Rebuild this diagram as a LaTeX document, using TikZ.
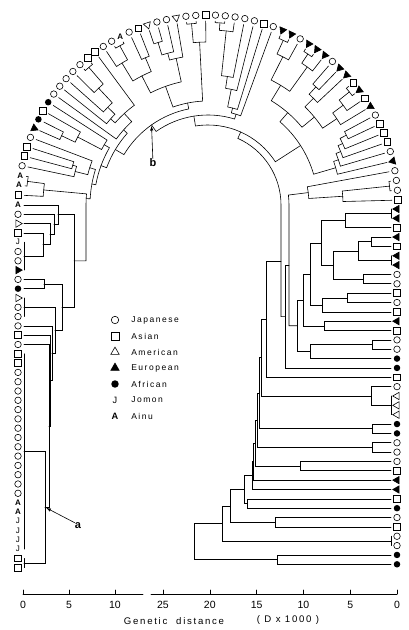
\documentclass[tikz,border=0pt]{standalone}
\usepackage{fontspec}
\setmainfont{Liberation Sans}
\newfontfamily\spaced[LetterSpace=18]{Liberation Sans}
\usetikzlibrary{calc,shapes.geometric}

% join two clades of a column at x=#3, parent named #4
\newcommand{\cjoin}[4]{%
  \draw let \p1=(#1), \p2=(#2) in
    (#1) -- (#3pt,\y1) -- (#3pt,\y2) -- (#2) (#3pt,{(\y1+\y2)/2}) coordinate (#4);}
% join two clades of the arc at radius #3, parent named #4
\newcommand{\pjoin}[4]{%
  \draw let \p1=($(#1)-(c)$), \p2=($(#2)-(c)$),
    \n1={atan2(\y1,\x1)}, \n2={atan2(\y2,\x2)} in
    (#1) -- ($(c)+(\n1:#3)$) arc[start angle=\n1, end angle=\n2, radius=#3] -- (#2)
    ($(c)+({(\n1+\n2)/2}:#3)$) coordinate (#4);}
% arc clade #1 joined with column clade #2 at radius #3, arc runs to angle #4
\newcommand{\mjoin}[5]{%
  \draw let \p1=($(#1)-(c)$), \p2=(#2), \p3=($(c)+(#4:#3)$),
    \n1={atan2(\y1,\x1)} in
    (#1) -- ($(c)+(\n1:#3)$) arc[start angle=\n1, end angle=#4, radius=#3]
    -- (\x3,\y2) -- (#2) (\x3,{(\y2+\y3)/2}) coordinate (#5);}
% leaves at zero distance
\newcommand{\zbar}[3]{%
  \draw (#1) -- (#2) ($(#1)!0.5!(#2)$) coordinate (#3);}

\def\trirot{0}

\begin{document}
\begin{tikzpicture}[x=1pt,y=1pt,line width=0.6pt,line cap=round,
  jpn/.style={circle,draw,inner sep=0pt,minimum size=6.5pt},
  asn/.style={rectangle,draw,inner sep=0pt,minimum size=6.8pt},
  amr/.style={regular polygon,regular polygon sides=3,draw,inner sep=0pt,
    minimum size=8.5pt,shape border rotate=\trirot},
  eur/.style={amr,fill=black},
  afr/.style={circle,fill=black,inner sep=0pt,minimum size=6.5pt},
  jom/.style={inner sep=0pt,font=\fontsize{8}{8}\selectfont},
  ain/.style={inner sep=0pt,font=\bfseries\fontsize{8}{8}\selectfont},
  legtext/.style={anchor=west,inner sep=0pt,font=\spaced\fontsize{8.5}{10}\selectfont},
  tick/.style={inner sep=0pt,font=\fontsize{10.5}{12}\selectfont},
  axtitle/.style={inner sep=0pt,font=\spaced\fontsize{9.6}{11}\selectfont},
  cladelab/.style={inner sep=0pt,font=\bfseries\fontsize{11}{12}\selectfont}]
		%%%%% START %%%%%
		\useasboundingbox (0,0) rectangle (408,630);
		\coordinate (c) at (208,425);
		
		% leaves round the top
		\foreach \s/\t [count=\k] in {asn/,ain/A,ain/A,jpn/,asn/,asn/,jpn/,eur/,afr/,asn/,
		    afr/,jpn/,jpn/,jpn/,jpn/,jpn/,asn/,asn/,jpn/,jpn/,
		    ain/A,jpn/,asn/,amr/,jpn/,jpn/,amr/,jpn/,jpn/,asn/,
		    jpn/,jpn/,jpn/,jpn/,jpn/,asn/,jpn/,eur/,eur/,jpn/,
		    eur/,eur/,eur/,jpn/,eur/,eur/,asn/,eur/,asn/,eur/,
		    jpn/,asn/,asn/,asn/,jpn/,eur/,jpn/,jpn/,jpn/,asn/}{
		  \pgfmathsetmacro\ang{177-2.975*(\k-1)}
		  \pgfmathsetmacro\trirot{\ang+90}
		  \node[\s] (p\k) at ($(c)+(\ang:190)$) {\t};
		  \coordinate (tp\k) at ($(c)+(\ang:184)$);
		}
		
		% left column
		\def\trirot{270}
		\foreach \s/\t [count=\k] in {ain/A,jpn/,amr/,asn/,jom/J,jpn/,jpn/,eur/,jpn/,afr/,
		    amr/,jpn/,jpn/,jpn/,asn/,jpn/,asn/,asn/,jpn/,jpn/,
		    jpn/,jpn/,jpn/,jpn/,jpn/,jpn/,jpn/,jpn/,jpn/,jpn/,
		    jpn/,jpn/,ain/A,ain/A,jom/J,jom/J,jom/J,jom/J,asn/,asn/}{
		  \node[\s] (l\k) at (18,{425-9.3*(\k-1)}) {\t};
		  \coordinate (tl\k) at (24,{425-9.3*(\k-1)});
		}
		
		% right column
		\def\trirot{90}
		\foreach \s/\t [count=\k] in {eur/,eur/,asn/,eur/,asn/,eur/,eur/,jpn/,jpn/,asn/,
		    jpn/,asn/,eur/,asn/,jpn/,jpn/,afr/,afr/,asn/,jpn/,
		    amr/,amr/,amr/,afr/,afr/,jpn/,jpn/,jpn/,asn/,eur/,
		    eur/,asn/,afr/,jpn/,asn/,jpn/,jpn/,afr/,afr/}{
		  \node[\s] (r\k) at (397,{421-9.35*(\k-1)}) {\t};
		  \coordinate (tr\k) at (391,{421-9.35*(\k-1)});
		}
		
		% clades on the arc
		\pjoin{tp2}{tp3}{182}{q2x3}
		\pjoin{tp1}{q2x3}{165}{q1x3}
		\pjoin{tp5}{tp6}{141}{q5x6}
		\pjoin{tp4}{q5x6}{137}{q4x6}
		\pjoin{q4x6}{tp7}{124}{q4x7}
		\pjoin{tp8}{tp9}{162}{q8x9}
		\pjoin{q8x9}{tp10}{147}{q8x10}
		\pjoin{q8x10}{tp11}{120}{q8x11}
		\pjoin{tp16}{tp17}{182}{q16x17}
		\pjoin{tp15}{q16x17}{160}{q15x17}
		\pjoin{tp14}{q15x17}{140}{q14x17}
		\pjoin{tp13}{q14x17}{130}{q13x17}
		\pjoin{q13x17}{tp18}{124}{q13x18}
		\pjoin{tp12}{q13x18}{113}{q12x18}
		\pjoin{tp20}{tp21}{182}{q20x21}
		\pjoin{tp19}{q20x21}{166}{q19x21}
		\pjoin{tp22}{tp23}{160}{q22x23}
		\pjoin{q19x21}{q22x23}{145}{q19x23}
		\pjoin{tp24}{tp25}{170}{q24x25}
		\pjoin{q24x25}{tp26}{157}{q24x26}
		\pjoin{q24x26}{tp27}{150}{q24x27}
		\pjoin{q19x23}{q24x27}{126}{q19x27}
		\pjoin{tp28}{tp29}{182}{q28x29}
		\pjoin{q28x29}{tp30}{163}{q28x30}
		\pjoin{q19x27}{q28x30}{104}{q19x30}
		\pjoin{tp31}{tp32}{182.5}{q31x32}
		\pjoin{q31x32}{tp33}{175}{q31x33}
		\pjoin{q31x33}{tp34}{130}{q31x34}
		\pjoin{q31x34}{tp35}{118}{q31x35}
		\pjoin{q31x35}{tp36}{100}{q31x36}
		\pjoin{q31x36}{tp37}{95}{q31x37}
		\pjoin{tp38}{tp39}{181}{q38x39}
		\pjoin{q38x39}{tp40}{166}{q38x40}
		\pjoin{tp41}{tp42}{181}{q41x42}
		\pjoin{q41x42}{tp43}{170}{q41x43}
		\pjoin{q38x40}{q41x43}{140}{q38x43}
		\pjoin{tp44}{tp45}{160}{q44x45}
		\pjoin{q44x45}{tp46}{150}{q44x46}
		\pjoin{tp47}{tp48}{181}{q47x48}
		\pjoin{q47x48}{tp49}{168}{q47x49}
		\pjoin{q47x49}{tp50}{155}{q47x50}
		\pjoin{q44x46}{q47x50}{138}{q44x50}
		\pjoin{q38x43}{q44x50}{122}{q38x50}
		\pjoin{tp51}{tp52}{155}{q51x52}
		\pjoin{q51x52}{tp53}{148}{q51x53}
		\pjoin{q51x53}{tp54}{143}{q51x54}
		\pjoin{q51x54}{tp55}{138}{q51x55}
		\pjoin{q51x55}{tp56}{133}{q51x56}
		\pjoin{q38x50}{q51x56}{110}{q38x56}
		\pjoin{tp58}{tp59}{182.5}{q58x59}
		\pjoin{q58x59}{tp60}{135}{q58x60}
		\pjoin{tp57}{q58x60}{101}{q57x60}
		
		% left column clades
		\zbar{tl5}{tl8}{m5x8}
		\cjoin{tl4}{m5x8}{43}{m4x8}
		\cjoin{tl3}{m4x8}{50}{m3x8}
		\cjoin{tl2}{m3x8}{54}{m2x8}
		\cjoin{tl1}{m2x8}{58}{m1x8}
		\cjoin{tl9}{tl10}{44}{m9x10}
		\zbar{tl11}{tl13}{m11x13}
		\zbar{tl17}{tl38}{m17x38}
		\zbar{tl39}{tl40}{m39x40}
		\cjoin{m17x38}{m39x40}{45}{m17x40}
		\cjoin{tl16}{m17x40}{49}{m16x40}
		\cjoin{tl15}{m16x40}{50.5}{m15x40}
		\cjoin{tl14}{m15x40}{52}{m14x40}
		\cjoin{m11x13}{m14x40}{55}{m11x40}
		\cjoin{m9x10}{m11x40}{62}{m9x40}
		\cjoin{m1x8}{m9x40}{74}{m1x40}
		
		% right column clades
		\zbar{tr1}{tr2}{k1x2}
		\cjoin{k1x2}{tr3}{345}{k1x3}
		\cjoin{tr4}{tr5}{371}{k4x5}
		\zbar{tr6}{tr7}{k6x7}
		\cjoin{k4x5}{k6x7}{358}{k4x7}
		\cjoin{tr8}{tr9}{363}{k8x9}
		\cjoin{k4x7}{k8x9}{333}{k4x9}
		\cjoin{k1x3}{k4x9}{321}{k1x9}
		\cjoin{tr10}{tr11}{347}{k10x11}
		\cjoin{k10x11}{tr12}{322}{k10x12}
		\cjoin{k1x9}{k10x12}{310}{k1x12}
		\cjoin{tr13}{tr14}{324}{k13x14}
		\cjoin{k1x12}{k13x14}{303}{k1x14}
		\cjoin{tr15}{tr16}{372}{k15x16}
		\cjoin{k15x16}{tr17}{310}{k15x17}
		\cjoin{k1x14}{k15x17}{297}{k1x17}
		\zbar{tr21}{tr23}{k21x23}
		\cjoin{tr20}{k21x23}{371}{k20x23}
		\cjoin{tr24}{tr25}{372}{k24x25}
		\cjoin{tr26}{tr27}{372}{k26x27}
		\cjoin{tr28}{tr29}{300}{k28x29}
		\cjoin{tr32}{tr33}{247}{k32x33}
		\cjoin{tr34}{tr35}{275}{k34x35}
		\zbar{tr36}{tr37}{k36x37}
		\cjoin{tr38}{tr39}{277}{k38x39}
		
		% the spine, from the left column round to the root
		\draw let \p1=($(q1x3)-(c)$), \p2=(m1x40), \n1={atan2(\y1,\x1)} in
		  (q1x3) -- ($(c)+(\n1:122)$) arc[start angle=\n1, end angle=180, radius=122]
		  -- (86pt,\y2) -- (m1x40) ($(c)+(177:122)$) coordinate (s1);
		\pjoin{s1}{q4x7}{118}{s2}
		\pjoin{s2}{q8x11}{114}{s3}
		\pjoin{s3}{q12x18}{108}{s4}
		\pjoin{s4}{q19x30}{98}{s5}
		\pjoin{s5}{q31x37}{90}{s6}
		\pjoin{s6}{q38x56}{80}{s7}
		\mjoin{q57x60}{k1x17}{81}{0}{ra}
		\cjoin{ra}{tr18}{285}{rb}
		\mjoin{s7}{rb}{73}{0}{s8}
		\cjoin{s8}{tr19}{266}{s9}
		\cjoin{s9}{k20x23}{261}{s10}
		\cjoin{s10}{k24x25}{259}{s11}
		\cjoin{s11}{k26x27}{257}{s12}
		\cjoin{s12}{k28x29}{255}{s13}
		\cjoin{s13}{tr30}{253.5}{s14}
		\cjoin{s14}{tr31}{252}{s15}
		\cjoin{s15}{k32x33}{244}{s16}
		\cjoin{s16}{k34x35}{230}{s17}
		\cjoin{s17}{k36x37}{222}{s18}
		\cjoin{s18}{k38x39}{194}{root}
		
		% marked clades
		\node[cladelab] (blab) at (153,467) {b};
		\draw[-latex,shorten >=1pt] (blab) -- (s5);
		\node[cladelab] (alab) at (78,104) {a};
		\draw[-latex,shorten >=1.5pt] (alab.north west) -- (m17x40);
		
		% legend
		\def\trirot{0}
		\foreach \s/\t/\lbl [count=\i] in {jpn//Japanese,asn//Asian,amr//American,
		    eur//European,afr//African,jom/J/Jomon,ain/A/Ainu}{
		  \node[\s,scale=1.15] (g\i) at (115,{326-16*\i}) {\t};
		  \node[legtext] (h\i) at (131,{326-16*\i}) {\lbl};
		}
		
		% distance axes
		\draw (23,36) -- (143,36);
		\draw (151,36) -- (397,36);
		\foreach \d in {0,5,10}{
		  \draw ({23+9.2*\d},36) -- ({23+9.2*\d},40);
		  \node[tick] (xl\d) at ({23+9.2*\d},25) {\d};
		}
		\foreach \d in {0,5,...,25}{
		  \draw ({397-9.36*\d},36) -- ({397-9.36*\d},40);
		  \node[tick] (xr\d) at ({397-9.36*\d},25) {\d};
		}
		\node[axtitle] (gd) at (174,9) {Genetic\ \ distance};
		\node[axtitle] (dx) at (288,10) {( D x 1000 )};
		%%%%% END %%%%%
\end{tikzpicture}
\end{document}
